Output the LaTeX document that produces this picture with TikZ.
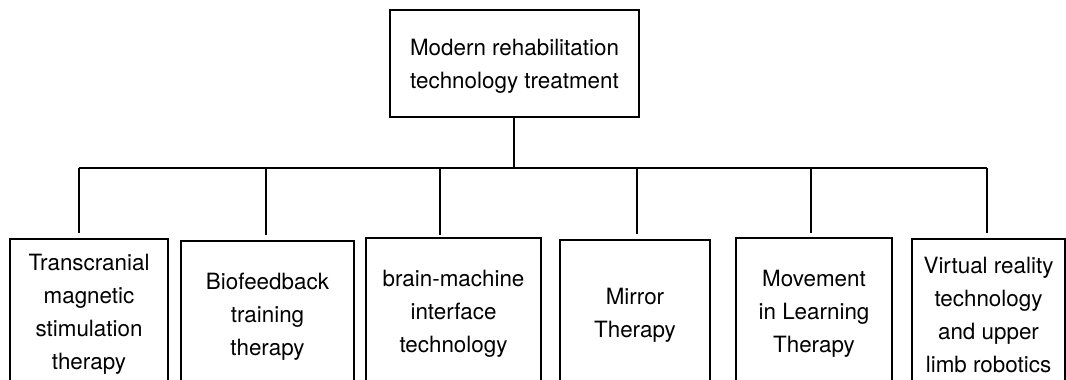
\documentclass[tikz,border=0pt]{standalone}
\usepackage{fontspec}
\setmainfont{TeX Gyre Heros}
\begin{document}
\begin{tikzpicture}[x=1pt,y=-1pt,
  treebox/.style={draw, line width=1.5pt, align=center, inner sep=0pt,
    font=\fontsize{22.4}{33}\selectfont},
  leafbox/.style={treebox, anchor=north, minimum height=152pt},
  link/.style={draw, line width=1.5pt}]
  \useasboundingbox (0,0) rectangle (1066,380);
  \clip (0,0) rectangle (1066,380);

  % root of the tree
  \node[treebox, text depth=0pt, minimum width=249pt, minimum height=107pt] (root) at (514.5,63.5)
    {Modern rehabilitation\\technology treatment};

  % the six treatment branches
  \node[leafbox, minimum width=158pt] (c1) at (89,238)
    {Transcranial\\magnetic\\stimulation\\therapy};
  \node[leafbox, minimum width=173pt] (c2) at (267.5,240)
    {Biofeedback\\training\\therapy};
  \node[leafbox, minimum width=175pt] (c3) at (453.5,237)
    {brain-machine\\interface\\technology};
  \node[leafbox, minimum width=150pt] (c4) at (635,239)
    {Mirror\\Therapy};
  \node[leafbox, minimum width=156pt] (c5) at (814,237)
    {Movement\\in Learning\\Therapy};
  \node[leafbox, minimum width=153pt] (c6) at (988.5,238)
    {Virtual reality\\technology\\and upper\\limb robotics};

  % bus junctions and drop ends
  \coordinate (hub) at (514,168);
  \coordinate (b1) at (79,168);   \coordinate (d1) at (79,233);
  \coordinate (b2) at (266,168);  \coordinate (d2) at (266,235);
  \coordinate (b3) at (440,168);  \coordinate (d3) at (440,235);
  \coordinate (b4) at (637,168);  \coordinate (d4) at (637,234);
  \coordinate (b5) at (811,168);  \coordinate (d5) at (811,233);
  \coordinate (b6) at (987,168);  \coordinate (d6) at (987,233);

  \draw[link] (root.south -| hub) -- (hub);
  \draw[link] (b1) -- (b6);
  \foreach \i in {1,...,6} {
    \draw[link] (b\i) -- (d\i);
  }
\end{tikzpicture}
\end{document}
